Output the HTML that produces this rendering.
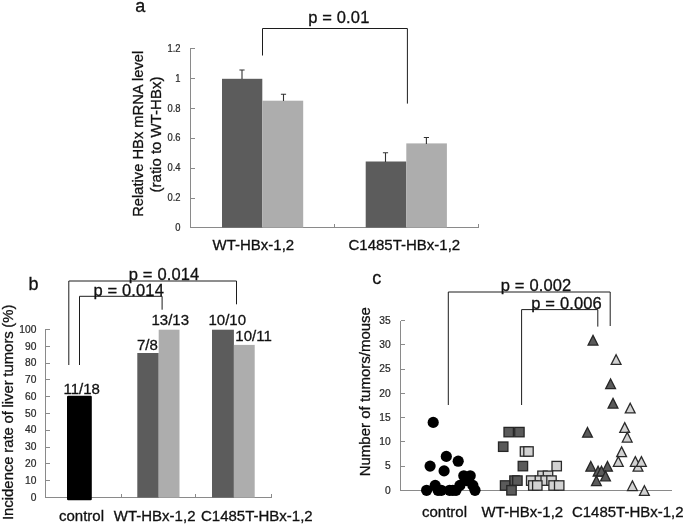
<!DOCTYPE html>
<html><head><meta charset="utf-8"><title>Figure</title>
<style>
html,body{margin:0;padding:0;background:#fff;}
body{width:685px;height:525px;overflow:hidden;}
svg{display:block;will-change:transform;}
text{font-family:"Liberation Sans",sans-serif;fill:#111;stroke:#111;stroke-width:0.3px;}
.tk{font-size:11px;fill:#2a2a2a;stroke:#2a2a2a;stroke-width:0.25px;}
.xl{font-size:15px;}
.pv{font-size:16.5px;letter-spacing:0.15px;}
.rt{font-size:15px;}
.yl{font-size:15px;}
.ax{stroke:#8a8a8a;stroke-width:1;fill:none;shape-rendering:crispEdges;}
.br{stroke:#1c1c1c;stroke-width:1;fill:none;}
</style></head><body>
<svg width="685" height="525" viewBox="0 0 685 525">
<rect width="685" height="525" fill="#fff"/>

<text x="135.3" y="11.6" style="font-size:18px">a</text>
<path class="ax" d="M190.5 48V227.5H478.5"/>
<path class="ax" d="M190.5 48.5h4"/>
<path class="ax" d="M190.5 78.4h4"/>
<path class="ax" d="M190.5 108.3h4"/>
<path class="ax" d="M190.5 138.2h4"/>
<path class="ax" d="M190.5 168.1h4"/>
<path class="ax" d="M190.5 198.0h4"/>
<path class="ax" d="M190.5 227.9h4"/>
<path class="ax" d="M334.5 227.5v-4"/>
<path class="ax" d="M478.5 227.5v-4"/>
<text class="tk" style="font-size:10px" transform="translate(180.5,51.7) scale(0.94,1)" text-anchor="end">1.2</text>
<text class="tk" style="font-size:10px" transform="translate(180.5,81.6) scale(0.94,1)" text-anchor="end">1</text>
<text class="tk" style="font-size:10px" transform="translate(180.5,111.5) scale(0.94,1)" text-anchor="end">0.8</text>
<text class="tk" style="font-size:10px" transform="translate(180.5,141.4) scale(0.94,1)" text-anchor="end">0.6</text>
<text class="tk" style="font-size:10px" transform="translate(180.5,171.3) scale(0.94,1)" text-anchor="end">0.4</text>
<text class="tk" style="font-size:10px" transform="translate(180.5,201.2) scale(0.94,1)" text-anchor="end">0.2</text>
<text class="tk" style="font-size:10px" transform="translate(180.5,231.1) scale(0.94,1)" text-anchor="end">0</text>
<rect x="222" y="78.8" width="40.3" height="148.7" fill="#5c5c5c"/>
<rect x="262.3" y="100.7" width="40.9" height="126.8" fill="#adadad"/>
<rect x="365.7" y="161.5" width="40.6" height="66.0" fill="#5c5c5c"/>
<rect x="406.3" y="143.4" width="40.6" height="84.1" fill="#adadad"/>
<path d="M242 79V70M239.4 70h5.2" stroke="#333" stroke-width="1.1" fill="none"/>
<path d="M283.5 101V94.3M280.9 94.3h5.2" stroke="#333" stroke-width="1.1" fill="none"/>
<path d="M385.5 162V152.7M382.9 152.7h5.2" stroke="#333" stroke-width="1.1" fill="none"/>
<path d="M426.4 144V137.5M423.79999999999995 137.5h5.2" stroke="#333" stroke-width="1.1" fill="none"/>
<path class="br" d="M262.5 55.5V28.5H407.4V103.6"/>
<text class="pv" x="308.2" y="23">p = 0.01</text>
<text class="xl" x="212.5" y="249.8">WT-HBx-1,2</text>
<text class="xl" x="348.5" y="249.8">C1485T-HBx-1,2</text>
<text class="yl" transform="translate(143.4,133.8) rotate(-90) scale(0.982,1)" text-anchor="middle">Relative HBx mRNA level</text>
<text class="yl" transform="translate(161,134.5) rotate(-90)" text-anchor="middle">(ratio to WT-HBx)</text>
<text x="28.4" y="289.6" style="font-size:18px">b</text>
<path class="ax" d="M45.5 329V497.5H272"/>
<path class="ax" d="M45.5 329.6h4"/>
<text class="tk" transform="translate(36.4,332.8) scale(0.93,1)" text-anchor="end">100</text>
<path class="ax" d="M45.5 346.4h4"/>
<text class="tk" transform="translate(36.4,349.6) scale(0.93,1)" text-anchor="end">90</text>
<path class="ax" d="M45.5 363.1h4"/>
<text class="tk" transform="translate(36.4,366.3) scale(0.93,1)" text-anchor="end">80</text>
<path class="ax" d="M45.5 379.9h4"/>
<text class="tk" transform="translate(36.4,383.1) scale(0.93,1)" text-anchor="end">70</text>
<path class="ax" d="M45.5 396.7h4"/>
<text class="tk" transform="translate(36.4,399.9) scale(0.93,1)" text-anchor="end">60</text>
<path class="ax" d="M45.5 413.5h4"/>
<text class="tk" transform="translate(36.4,416.7) scale(0.93,1)" text-anchor="end">50</text>
<path class="ax" d="M45.5 430.2h4"/>
<text class="tk" transform="translate(36.4,433.4) scale(0.93,1)" text-anchor="end">40</text>
<path class="ax" d="M45.5 447.0h4"/>
<text class="tk" transform="translate(36.4,450.2) scale(0.93,1)" text-anchor="end">30</text>
<path class="ax" d="M45.5 463.8h4"/>
<text class="tk" transform="translate(36.4,467.0) scale(0.93,1)" text-anchor="end">20</text>
<path class="ax" d="M45.5 480.5h4"/>
<text class="tk" transform="translate(36.4,483.7) scale(0.93,1)" text-anchor="end">10</text>
<path class="ax" d="M45.5 497.3h4"/>
<text class="tk" transform="translate(36.4,500.5) scale(0.93,1)" text-anchor="end">0</text>
<path class="ax" d="M121.5 497.5v-4"/>
<path class="ax" d="M195.5 497.5v-4"/>
<path class="ax" d="M271.5 497.5v-4"/>
<rect x="67" y="395.8" width="24.8" height="104.4" rx="1.2" fill="#000"/>
<rect x="137.3" y="353" width="21.4" height="144.5" fill="#5c5c5c"/>
<rect x="158.7" y="329.7" width="20.8" height="167.8" fill="#adadad"/>
<rect x="212" y="329.7" width="21.9" height="167.8" fill="#5c5c5c"/>
<rect x="233.9" y="344.9" width="20.8" height="152.6" fill="#adadad"/>
<text class="rt" x="63.5" y="393.7">11/18</text>
<text class="rt" x="137" y="350.2">7/8</text>
<text class="rt" x="151.5" y="325">13/13</text>
<text class="rt" x="208.5" y="325">10/10</text>
<text class="rt" x="235.3" y="341">10/11</text>
<path class="br" d="M68.8 365V281H236.5V304.3"/>
<path class="br" d="M79.5 365V296.3H162.1V309.7"/>
<text class="pv" x="128.8" y="279.8">p = 0.014</text>
<text class="pv" x="93.4" y="295.6">p = 0.014</text>
<text class="xl" x="59" y="521.3">control</text>
<text class="xl" x="113.8" y="521.3">WT-HBx-1,2</text>
<text class="xl" x="201" y="521.3">C1485T-HBx-1,2</text>
<text class="yl" transform="translate(13.2,412.3) rotate(-90) scale(0.968,1)" text-anchor="middle" style="font-size:15.4px;word-spacing:-0.6px">Incidence rate of liver tumors (%)</text>
<text x="372.2" y="283.8" style="font-size:18px">c</text>
<path class="ax" d="M400.5 320.5V490.5H672"/>
<path class="ax" d="M400.5 320.6h4"/>
<text class="tk" transform="translate(390.6,323.9) scale(0.93,1)" text-anchor="end">35</text>
<path class="ax" d="M400.5 344.8h4"/>
<text class="tk" transform="translate(390.6,348.1) scale(0.93,1)" text-anchor="end">30</text>
<path class="ax" d="M400.5 369.1h4"/>
<text class="tk" transform="translate(390.6,372.4) scale(0.93,1)" text-anchor="end">25</text>
<path class="ax" d="M400.5 393.3h4"/>
<text class="tk" transform="translate(390.6,396.6) scale(0.93,1)" text-anchor="end">20</text>
<path class="ax" d="M400.5 417.6h4"/>
<text class="tk" transform="translate(390.6,420.9) scale(0.93,1)" text-anchor="end">15</text>
<path class="ax" d="M400.5 441.8h4"/>
<text class="tk" transform="translate(390.6,445.1) scale(0.93,1)" text-anchor="end">10</text>
<path class="ax" d="M400.5 466.1h4"/>
<text class="tk" transform="translate(390.6,469.4) scale(0.93,1)" text-anchor="end">5</text>
<path class="ax" d="M400.5 490.3h4"/>
<text class="tk" transform="translate(390.6,493.6) scale(0.93,1)" text-anchor="end">0</text>
<path class="br" d="M448.3 405V292H610.2V326"/>
<path class="br" d="M521.6 405V309.6H597.8V326.6"/>
<text class="pv" x="500.8" y="291">p = 0.002</text>
<text class="pv" x="531.3" y="309">p = 0.006</text>
<circle cx="433.2" cy="422.4" r="5.6" fill="#000"/>
<circle cx="446.3" cy="456.4" r="5.6" fill="#000"/>
<circle cx="458.2" cy="461.2" r="5.6" fill="#000"/>
<circle cx="430.1" cy="466.1" r="5.6" fill="#000"/>
<circle cx="444.1" cy="470.9" r="5.6" fill="#000"/>
<circle cx="463.8" cy="475.8" r="5.6" fill="#000"/>
<circle cx="470.2" cy="475.8" r="5.6" fill="#000"/>
<circle cx="466.8" cy="480.6" r="5.6" fill="#000"/>
<circle cx="435.2" cy="485.4" r="5.6" fill="#000"/>
<circle cx="459.9" cy="485.4" r="5.6" fill="#000"/>
<circle cx="472.9" cy="485.4" r="5.6" fill="#000"/>
<circle cx="426.6" cy="490.3" r="5.6" fill="#000"/>
<circle cx="438" cy="490.3" r="5.6" fill="#000"/>
<circle cx="441.3" cy="490.3" r="5.6" fill="#000"/>
<circle cx="449.6" cy="490.3" r="5.6" fill="#000"/>
<circle cx="452.8" cy="490.3" r="5.6" fill="#000"/>
<circle cx="456" cy="490.3" r="5.6" fill="#000"/>
<circle cx="475" cy="490.3" r="5.6" fill="#000"/>
<rect x="504.0" y="427.4" width="9.4" height="9.4" fill="#5a5a5a" stroke="#262626" stroke-width="1.3"/>
<rect x="514.7" y="427.4" width="9.4" height="9.4" fill="#5a5a5a" stroke="#262626" stroke-width="1.3"/>
<rect x="498.5" y="442.0" width="9.4" height="9.4" fill="#5a5a5a" stroke="#262626" stroke-width="1.3"/>
<rect x="518.2" y="461.4" width="9.4" height="9.4" fill="#5a5a5a" stroke="#262626" stroke-width="1.3"/>
<rect x="509.8" y="475.9" width="9.4" height="9.4" fill="#5a5a5a" stroke="#262626" stroke-width="1.3"/>
<rect x="512.7" y="475.9" width="9.4" height="9.4" fill="#5a5a5a" stroke="#262626" stroke-width="1.3"/>
<rect x="500.4" y="480.8" width="9.4" height="9.4" fill="#5a5a5a" stroke="#262626" stroke-width="1.3"/>
<rect x="506.8" y="485.6" width="9.4" height="9.4" fill="#5a5a5a" stroke="#262626" stroke-width="1.3"/>
<rect x="520.3" y="446.8" width="9.4" height="9.4" fill="#d2d2d2" stroke="#2a2a2a" stroke-width="1.3"/>
<rect x="523.8" y="446.8" width="9.4" height="9.4" fill="#d2d2d2" stroke="#2a2a2a" stroke-width="1.3"/>
<rect x="552.0" y="461.4" width="9.4" height="9.4" fill="#d2d2d2" stroke="#2a2a2a" stroke-width="1.3"/>
<rect x="537.8" y="471.1" width="9.4" height="9.4" fill="#d2d2d2" stroke="#2a2a2a" stroke-width="1.3"/>
<rect x="543.3" y="471.1" width="9.4" height="9.4" fill="#d2d2d2" stroke="#2a2a2a" stroke-width="1.3"/>
<rect x="526.5" y="475.9" width="9.4" height="9.4" fill="#d2d2d2" stroke="#2a2a2a" stroke-width="1.3"/>
<rect x="535.2" y="475.9" width="9.4" height="9.4" fill="#d2d2d2" stroke="#2a2a2a" stroke-width="1.3"/>
<rect x="541.0" y="475.9" width="9.4" height="9.4" fill="#d2d2d2" stroke="#2a2a2a" stroke-width="1.3"/>
<rect x="546.8" y="475.9" width="9.4" height="9.4" fill="#d2d2d2" stroke="#2a2a2a" stroke-width="1.3"/>
<rect x="528.6" y="480.8" width="9.4" height="9.4" fill="#d2d2d2" stroke="#2a2a2a" stroke-width="1.3"/>
<rect x="532.6" y="480.8" width="9.4" height="9.4" fill="#d2d2d2" stroke="#2a2a2a" stroke-width="1.3"/>
<rect x="548.9" y="480.8" width="9.4" height="9.4" fill="#d2d2d2" stroke="#2a2a2a" stroke-width="1.3"/>
<rect x="554.5" y="480.8" width="9.4" height="9.4" fill="#d2d2d2" stroke="#2a2a2a" stroke-width="1.3"/>
<path d="M593.0 335.35L597.9 345.05H588.1Z" fill="#5a5a5a" stroke="#262626" stroke-width="1.3" stroke-linejoin="miter"/>
<path d="M610.6 379.00L615.5 388.70H605.7Z" fill="#5a5a5a" stroke="#262626" stroke-width="1.3" stroke-linejoin="miter"/>
<path d="M613.0 398.40L617.9 408.10H608.1Z" fill="#5a5a5a" stroke="#262626" stroke-width="1.3" stroke-linejoin="miter"/>
<path d="M587.5 427.50L592.4 437.20H582.6Z" fill="#5a5a5a" stroke="#262626" stroke-width="1.3" stroke-linejoin="miter"/>
<path d="M590.8 461.45L595.7 471.15H585.9Z" fill="#5a5a5a" stroke="#262626" stroke-width="1.3" stroke-linejoin="miter"/>
<path d="M607.5 461.45L612.4 471.15H602.6Z" fill="#5a5a5a" stroke="#262626" stroke-width="1.3" stroke-linejoin="miter"/>
<path d="M598.1 466.30L603.0 476.00H593.2Z" fill="#5a5a5a" stroke="#262626" stroke-width="1.3" stroke-linejoin="miter"/>
<path d="M601.5 466.30L606.4 476.00H596.6Z" fill="#5a5a5a" stroke="#262626" stroke-width="1.3" stroke-linejoin="miter"/>
<path d="M605.5 471.15L610.4 480.85H600.6Z" fill="#5a5a5a" stroke="#262626" stroke-width="1.3" stroke-linejoin="miter"/>
<path d="M596.4 476.00L601.3 485.70H591.5Z" fill="#5a5a5a" stroke="#262626" stroke-width="1.3" stroke-linejoin="miter"/>
<path d="M616.1 354.75L621.0 364.45H611.2Z" fill="#d2d2d2" stroke="#2a2a2a" stroke-width="1.3" stroke-linejoin="miter"/>
<path d="M630.2 403.25L635.1 412.95H625.3Z" fill="#d2d2d2" stroke="#2a2a2a" stroke-width="1.3" stroke-linejoin="miter"/>
<path d="M624.7 422.65L629.6 432.35H619.8Z" fill="#d2d2d2" stroke="#2a2a2a" stroke-width="1.3" stroke-linejoin="miter"/>
<path d="M627.2 432.35L632.1 442.05H622.3Z" fill="#d2d2d2" stroke="#2a2a2a" stroke-width="1.3" stroke-linejoin="miter"/>
<path d="M621.6 446.90L626.5 456.60H616.7Z" fill="#d2d2d2" stroke="#2a2a2a" stroke-width="1.3" stroke-linejoin="miter"/>
<path d="M618.3 456.60L623.2 466.30H613.4Z" fill="#d2d2d2" stroke="#2a2a2a" stroke-width="1.3" stroke-linejoin="miter"/>
<path d="M638.0 461.45L642.9 471.15H633.1Z" fill="#d2d2d2" stroke="#2a2a2a" stroke-width="1.3" stroke-linejoin="miter"/>
<path d="M635.3 456.60L640.2 466.30H630.4Z" fill="#d2d2d2" stroke="#2a2a2a" stroke-width="1.3" stroke-linejoin="miter"/>
<path d="M641.4 456.60L646.3 466.30H636.5Z" fill="#d2d2d2" stroke="#2a2a2a" stroke-width="1.3" stroke-linejoin="miter"/>
<path d="M632.4 480.85L637.3 490.55H627.5Z" fill="#d2d2d2" stroke="#2a2a2a" stroke-width="1.3" stroke-linejoin="miter"/>
<path d="M644.4 485.70L649.3 495.40H639.5Z" fill="#d2d2d2" stroke="#2a2a2a" stroke-width="1.3" stroke-linejoin="miter"/>
<text class="xl" x="422" y="516.5">control</text>
<text class="xl" x="481.5" y="516.5">WT-HBx-1,2</text>
<text class="xl" x="571.9" y="516.5">C1485T-HBx-1,2</text>
<text class="yl" transform="translate(369.8,391.7) rotate(-90)" text-anchor="middle">Number of tumors/mouse</text>
</svg></body></html>
